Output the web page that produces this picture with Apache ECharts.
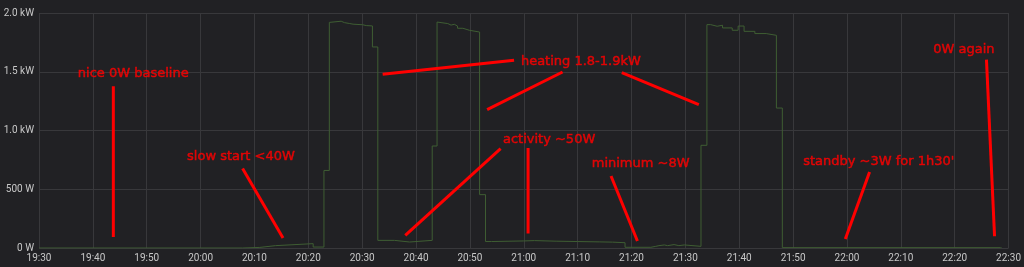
<!DOCTYPE html>
<html><head><meta charset="utf-8">
<script src="https://cdn.jsdelivr.net/npm/echarts@6/dist/echarts.min.js"></script>
<style>html,body{margin:0;padding:0;background:#212124;}#c{width:1024px;height:267px;}</style>
</head><body><div id="c"></div>
<script>
// ---- data ----
const startTime = '19:30:00';
const times = ['19:30:00','20:07:48','20:11:00','20:13:54','20:20:54','20:22:54','20:23:54','20:24:15','20:26:06','20:26:42','20:27:42','20:28:18','20:30:06','20:30:45','20:31:54','20:32:54','20:36:00','20:38:48','20:43:00','20:43:54','20:44:12','20:45:54','20:46:30','20:47:06','20:47:42','20:48:42','20:49:54','20:51:48','20:52:54','20:54:00','21:00:00','21:02:00','21:06:00','21:10:00','21:14:00','21:16:30','21:18:48','21:23:36','21:24:30','21:25:06','21:26:06','21:26:42','21:27:54','21:28:48','21:29:48','21:32:54','21:34:00','21:34:42','21:35:54','21:36:54','21:38:42','21:39:48','21:40:54','21:42:54','21:45:00','21:46:54','21:48:00','22:28:30','22:28:42'];
const watts = [0,5,20,37,8,660,1920,1930,1918,1910,1905,1900,1893,1890,1711,65,51,65,868,1923,1910,1897,1904,1889,1870,1853,1838,454,55,60,63,58,55,52,50,45,6,14,20,26,20,29,20,26,14,874,1901,1887,1896,1873,1853,1889,1844,1825,1810,1191,3,3,0];
const xTickLabels = ['19:30','19:40','19:50','20:00','20:10','20:20','20:30','20:40','20:50','21:00','21:10','21:20','21:30','21:40','21:50','22:00','22:10','22:20','22:30'];
const yTickLabels = ['0 W','500 W','1.0 kW','1.5 kW','2.0 kW'];
// annotations (minutes after 19:30, watts)
const noteTexts = ['nice 0W baseline','slow start <40W','heating 1.8-1.9kW','activity ~50W','minimum ~8W',"standby ~3W for 1h30'",'0W again'];
const noteX = [17.5,37.5,100.6,94.7,111.7,155.9,171.7];
const noteY = [1484,774,1589,925,721,738,1691];
const segStart = [[13.8,1376],[37.8,676],[63.8,1478],[83.2,1178],[108.2,1493],[68.0,108],[90.8,851],[106.2,613],[154.2,647],[175.9,1603]];
const segEnd   = [[13.8,94],[45.3,85],[88.2,1597],[97.2,1498],[122.5,1220],[85.7,846],[90.8,123],[111.1,60],[149.7,77],[177.4,100]];

function toMin(s){const p=s.split(':').map(Number);const b=startTime.split(':').map(Number);return (p[0]*60+p[1]+p[2]/60)-(b[0]*60+b[1]+b[2]/60);}
const seriesData = times.map((t,i)=>[toMin(t),watts[i]]);

const chart = echarts.init(document.getElementById('c'),null,{renderer:'canvas'});
const series = [{
  type:'line', step:'end', data:seriesData, showSymbol:false, symbol:'none',
  lineStyle:{color:'#3f5e33',width:1}, silent:true, z:2
}];
segStart.forEach((s,i)=>{
  series.push({type:'line',data:[s,segEnd[i]],symbol:'none',silent:true,z:5,
    lineStyle:{color:'#ff0000',width:3,cap:'butt'}});
});
series.push({type:'scatter',symbolSize:0,silent:true,z:6,
  data:noteTexts.map((t,i)=>({name:t,value:[noteX[i],noteY[i]]})),
  label:{show:true,position:'inside',formatter:p=>p.name,color:'#ff0000',
    textBorderWidth:0.5,textBorderColor:'#ff0000',textShadowBlur:0,
    fontFamily:'DejaVu Sans',fontSize:13}});

chart.setOption({
  animation:false,
  backgroundColor:'#212124',
  grid:{left:39,right:14,top:13,bottom:19,containLabel:false},
  xAxis:{type:'value',min:0,max:180,interval:10,
    axisLine:{show:false},axisTick:{show:false},
    axisLabel:{color:'#c8c8c8',fontFamily:'Roboto',fontSize:10,margin:5,
      formatter:v=>xTickLabels[Math.round(v/10)]},
    splitLine:{show:true,lineStyle:{color:'#38383b',width:1}}},
  yAxis:{type:'value',min:0,max:2000,interval:500,
    axisLine:{show:false},axisTick:{show:false},
    axisLabel:{color:'#c8c8c8',fontFamily:'Roboto',fontSize:10,margin:5,
      formatter:v=>yTickLabels[Math.round(v/500)]},
    splitLine:{show:true,lineStyle:{color:'#38383b',width:1}}},
  series:series
});
</script></body></html>
